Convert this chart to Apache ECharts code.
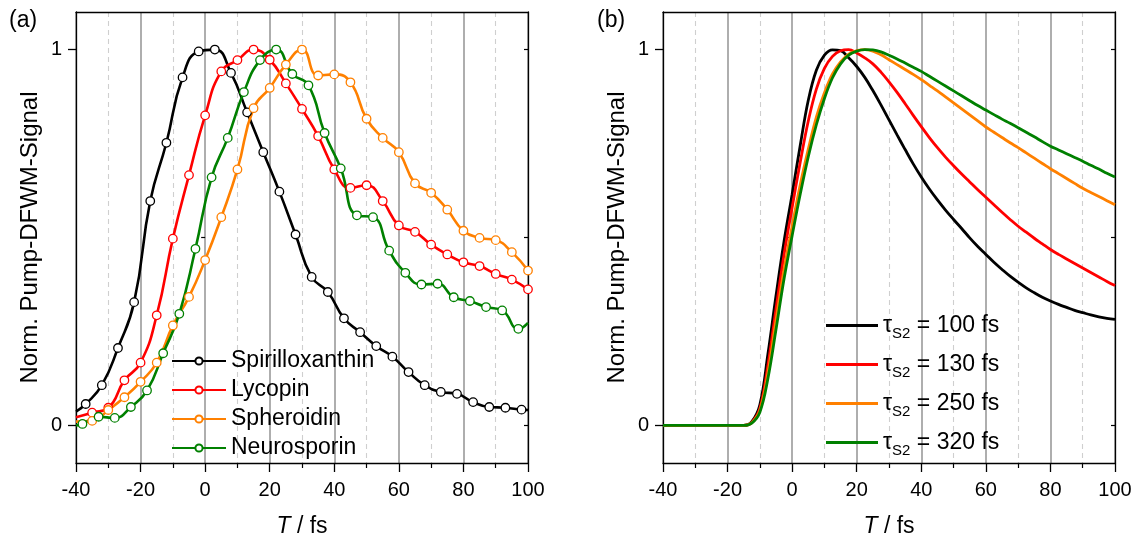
<!DOCTYPE html>
<html>
<head>
<meta charset="utf-8">
<script src="https://cdn.jsdelivr.net/npm/echarts@6/dist/echarts.min.js"></script>
<style>
html,body{margin:0;padding:0;background:#fff;}
#c{width:1136px;height:544px;}
</style>
</head>
<body>
<div id="c"></div>
<script>
// ---------- Panel (a): measured data ----------
const spiriX = [-37,-32,-27,-22,-17,-12,-7,-2,3,8,13,18,23,28,33,38,43,48,53,58,63,68,73,78,83,88,93,98];
const spiriY = [0.057,0.107,0.206,0.328,0.597,0.752,0.926,0.995,1.0,0.938,0.833,0.727,0.622,0.508,0.395,0.355,0.285,0.248,0.211,0.183,0.142,0.107,0.089,0.084,0.062,0.049,0.047,0.042];
const spiriEnds = [0.037, 0.041];   // spline value at T=-40 and T=100

const lycoX = [-35,-30,-25,-20,-15,-10,-5,0,5,10,15,20,25,30,35,40,45,50,55,60,65,70,75,80,85,90,95,100];
const lycoY = [0.034,0.047,0.120,0.167,0.293,0.497,0.666,0.825,0.942,0.972,1.0,0.973,0.910,0.842,0.770,0.681,0.632,0.639,0.597,0.532,0.515,0.481,0.455,0.434,0.424,0.403,0.388,0.362];
const lycoEnds = [0.022, null];

const spheX = [-35,-30,-25,-20,-15,-10,-5,0,5,10,15,20,25,30,35,40,45,50,55,60,65,70,75,80,85,90,95,100];
const spheY = [0.012,0.041,0.075,0.116,0.167,0.266,0.342,0.440,0.554,0.681,0.844,0.898,0.960,1.0,0.931,0.934,0.913,0.816,0.765,0.727,0.644,0.619,0.574,0.518,0.499,0.493,0.461,0.412];
const spheEnds = [0.010, null];

const neuroX = [-38,-33,-28,-23,-18,-13,-8,-3,2,7,12,17,22,27,32,37,42,47,52,57,62,67,72,77,82,87,92,97];
const neuroY = [0.004,0.023,0.020,0.049,0.093,0.192,0.297,0.470,0.660,0.765,0.887,0.972,1.0,0.935,0.905,0.778,0.684,0.559,0.554,0.465,0.406,0.375,0.377,0.341,0.331,0.315,0.306,0.257];
const neuroEnds = [0.0, 0.273];

const namesA = ['Spirilloxanthin','Lycopin','Spheroidin','Neurosporin'];

// ---------- Panel (b): simulated curves (read every 2.5 fs) ----------
const simX = [-40,-37.5,-35,-32.5,-30,-27.5,-25,-22.5,-20,-17.5,-15,-12.5,-10,-7.5,-5,-2.5,0,2.5,5,7.5,10,12.5,15,17.5,20,22.5,25,27.5,30,32.5,35,37.5,40,42.5,45,47.5,50,52.5,55,57.5,60,62.5,65,67.5,70,72.5,75,77.5,80,82.5,85,87.5,90,92.5,95,97.5,100];
const tau100 = [0,0,0,0,0,0,0,0,0,0,0,
  0.01,0.055,0.19,0.345,0.49,0.615,0.745,0.865,0.945,0.985,
  0.999,0.997,0.978,0.955,0.926,0.891,0.853,0.813,0.773,0.734,
  0.696,0.661,0.629,0.600,0.573,0.548,0.524,0.499,0.476,0.455,
  0.434,0.415,0.397,0.381,0.366,0.353,0.341,0.331,0.322,0.314,
  0.306,0.300,0.294,0.289,0.285,0.282];
const tau130 = [0,0,0,0,0,0,0,0,0,0,0,
  0.008,0.045,0.16,0.31,0.455,0.58,0.70,0.81,0.895,0.95,
  0.982,0.997,1.0,0.991,0.978,0.962,0.940,0.914,0.886,0.856,
  0.825,0.795,0.766,0.739,0.714,0.691,0.669,0.648,0.627,0.607,
  0.587,0.567,0.548,0.530,0.514,0.498,0.483,0.468,0.455,0.443,
  0.431,0.419,0.407,0.395,0.383,0.372];
const tau250 = [0,0,0,0,0,0,0,0,0,0,0,
  0.007,0.04,0.14,0.28,0.415,0.53,0.64,0.735,0.82,0.885,
  0.935,0.967,0.988,0.997,1.0,0.996,0.986,0.973,0.960,0.947,
  0.934,0.920,0.905,0.890,0.874,0.858,0.842,0.826,0.810,0.794,
  0.780,0.766,0.752,0.739,0.725,0.711,0.697,0.683,0.670,0.657,
  0.644,0.631,0.620,0.609,0.598,0.587];
const tau320 = [0,0,0,0,0,0,0,0,0,0,0,
  0.006,0.035,0.125,0.255,0.39,0.505,0.615,0.715,0.80,0.87,
  0.925,0.962,0.985,0.996,1.0,0.999,0.994,0.985,0.975,0.964,
  0.953,0.942,0.929,0.916,0.903,0.890,0.877,0.864,0.851,0.839,
  0.827,0.815,0.804,0.792,0.780,0.768,0.755,0.743,0.733,0.723,
  0.713,0.703,0.692,0.682,0.671,0.661];
const tauLabels = ['100','130','250','320'];

const colors = ['#000000','#ff0000','#ff8000','#008000'];
const xTickMin = -40, xTickMax = 100, xTickStep = 20;
const yLabelValues = [0, 1];

// ---------- build ----------
const FONT = 'Liberation Sans, Arial, sans-serif';

function expSeries(name, xs, ys, ends, color) {
  const data = [];
  if (ends[0] !== null) data.push({value:[-40, ends[0]], symbol:'none'});
  xs.forEach((x,i)=>data.push([x, ys[i]]));
  if (ends[1] !== null) data.push({value:[100, ends[1]], symbol:'none'});
  return {
    name, type:'line', xAxisIndex:0, yAxisIndex:0, data,
    smooth:0.5, symbol:'circle', symbolSize:8.5, showSymbol:true,
    lineStyle:{color, width:2.6},
    itemStyle:{color:'#ffffff', borderColor:color, borderWidth:1.3},
    emphasis:{disabled:true}, animation:false
  };
}
function simSeries(name, ys, color) {
  return {
    name, type:'line', xAxisIndex:2, yAxisIndex:3,
    data: simX.map((x,i)=>[x, ys[i]]),
    smooth:0.4, symbol:'none',
    lineStyle:{color, width:2.8}, itemStyle:{color},
    emphasis:{disabled:true}, animation:false
  };
}

function xAxes(gi) {
  const bottom = {
    type:'value', gridIndex:gi, position:'bottom', min:xTickMin, max:xTickMax, interval:xTickStep,
    axisLine:{show:true, onZero:false, lineStyle:{color:'#000', width:1.3}},
    axisTick:{show:true, length:9, lineStyle:{color:'#000', width:1.3}},
    minorTick:{show:true, splitNumber:2, length:5, lineStyle:{color:'#000', width:1.2}},
    axisLabel:{color:'#000', fontSize:20, fontFamily:FONT, margin:17},
    splitLine:{show:true, lineStyle:{color:'#9a9a9a', width:1.6}},
    minorSplitLine:{show:true, lineStyle:{color:'#cfcfcf', width:1.1, type:[5,4]}},
    name:'{i|T} / fs', nameLocation:'middle', nameGap:52,
    nameTextStyle:{color:'#000', fontSize:23, fontFamily:FONT,
      rich:{i:{fontStyle:'italic', fontSize:23, fontFamily:FONT, color:'#000'}}}
  };
  const top = {
    type:'value', gridIndex:gi, position:'top', min:xTickMin, max:xTickMax, interval:xTickStep,
    axisLine:{show:true, onZero:false, lineStyle:{color:'#000', width:1.3}},
    axisTick:{show:false}, axisLabel:{show:false}, splitLine:{show:false}
  };
  return [bottom, top];
}
function yAxes(gi) {
  const left = {
    type:'value', gridIndex:gi, position:'left', min:-0.1, max:1.1,
    axisLine:{show:true, onZero:false, lineStyle:{color:'#000', width:1.3}},
    axisTick:{show:true, length:8, customValues:yLabelValues, lineStyle:{color:'#000', width:1.3}},
    axisLabel:{show:true, customValues:yLabelValues, color:'#000', fontSize:20, fontFamily:FONT, margin:14},
    splitLine:{show:false},
    name:'Norm. Pump-DFWM-Signal', nameLocation:'middle', nameGap:34, nameRotate:90,
    nameTextStyle:{color:'#000', fontSize:24, fontFamily:FONT}
  };
  const right = {
    type:'value', gridIndex:gi, position:'right', min:-0.1, max:1.1,
    axisLine:{show:true, onZero:false, lineStyle:{color:'#000', width:1.3}},
    axisTick:{show:true, inside:true, length:4, customValues:[0,0.5,1], lineStyle:{color:'#000', width:1.2}},
    axisLabel:{show:false}, splitLine:{show:false}
  };
  const minor = {
    type:'value', gridIndex:gi, position:'left', offset:0, min:-0.1, max:1.1,
    axisLine:{show:false},
    axisTick:{show:true, length:4, customValues:[0.5], lineStyle:{color:'#000', width:1.2}},
    axisLabel:{show:false}, splitLine:{show:false}
  };
  return [left, right, minor];
}

const seriesA = [
  expSeries(namesA[0], spiriX, spiriY, spiriEnds, colors[0]),
  expSeries(namesA[1], lycoX, lycoY, lycoEnds, colors[1]),
  expSeries(namesA[2], spheX, spheY, spheEnds, colors[2]),
  expSeries(namesA[3], neuroX, neuroY, neuroEnds, colors[3])
];
const namesB = tauLabels.map(t => 'τS2 = ' + t + ' fs');
const seriesB = [
  simSeries(namesB[0], tau100, colors[0]),
  simSeries(namesB[1], tau130, colors[1]),
  simSeries(namesB[2], tau250, colors[2]),
  simSeries(namesB[3], tau320, colors[3])
];

const option = {
  backgroundColor:'#ffffff',
  animation:false,
  grid:[
    {left:76, top:12, width:452, height:451, containLabel:false},
    {left:663, top:12, width:452, height:451, containLabel:false}
  ],
  xAxis:[...xAxes(0), ...xAxes(1)],
  yAxis:[...yAxes(0), ...yAxes(1)],
  legend:[
    {
      data:namesA, orient:'vertical', left:166, top:344,
      itemWidth:54, itemHeight:9, itemGap:5,
      selectedMode:false,
      textStyle:{color:'#000', fontSize:23, fontFamily:FONT, lineHeight:24}
    },
    {
      data:namesB, orient:'vertical', left:821, top:304,
      itemWidth:52, itemHeight:3, itemGap:6, icon:'rect',
      selectedMode:false,
      formatter:function(n){ const v = n.replace('τS2 = ','').replace(' fs',''); return '{t|τ}{s|S2}{n| = ' + v + ' fs}'; },
      textStyle:{color:'#000', fontSize:23, fontFamily:FONT, lineHeight:33,
        rich:{
          t:{fontSize:23, fontFamily:FONT, color:'#000', lineHeight:33},
          s:{fontSize:15, fontFamily:FONT, color:'#000', lineHeight:33, padding:[17,0,0,0]},
          n:{fontSize:23, fontFamily:FONT, color:'#000', lineHeight:33}
        }}
    }
  ],
  graphic:[
    {type:'text', left:9, top:9, style:{text:'(a)', fontSize:23, fontFamily:FONT, fill:'#000'}},
    {type:'text', left:597, top:9, style:{text:'(b)', fontSize:23, fontFamily:FONT, fill:'#000'}}
  ],
  series:[...seriesA, ...seriesB]
};

const chart = echarts.init(document.getElementById('c'), null, {renderer:'canvas'});
chart.setOption(option);
</script>
</body>
</html>
